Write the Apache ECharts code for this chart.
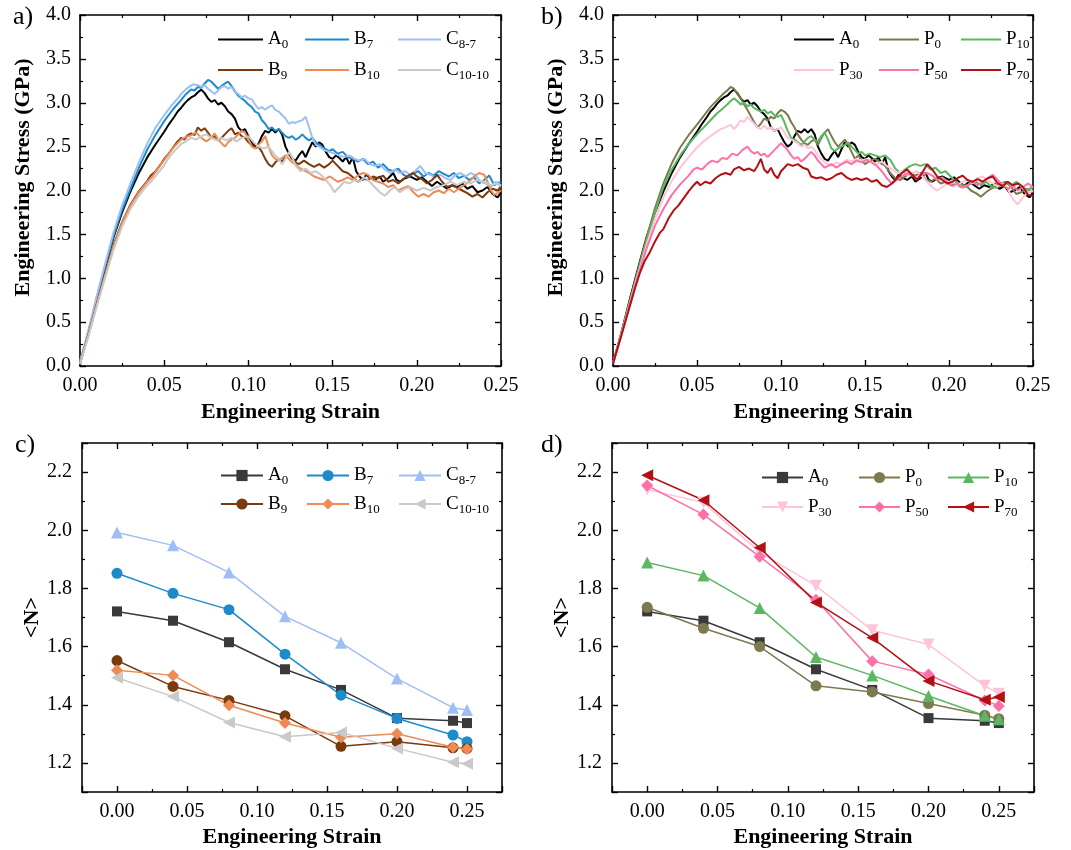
<!DOCTYPE html>
<html>
<head>
<meta charset="utf-8">
<script src="https://cdn.jsdelivr.net/npm/echarts@6/dist/echarts.min.js"></script>
<style>
  html, body { margin: 0; padding: 0; background: #fff; }
  #chart { width: 1071px; height: 850px; }
</style>
</head>
<body>
<div id="chart"></div>
<script>
const FONT = '"Liberation Serif","Times New Roman",serif';

// ---- engineering stress (GPa) vs engineering strain, panel a) and b) ----
const curveA0 = [[0,0.03],[0.005,0.38],[0.01,0.76],[0.015,1.12],[0.02,1.47],[0.025,1.75],[0.03,1.99],[0.035,2.2],[0.04,2.38],[0.045,2.53],[0.05,2.67],[0.053,2.76],[0.056,2.84],[0.058,2.9],[0.06,2.94],[0.062,2.99],[0.064,3.03],[0.066,3.06],[0.068,3.08],[0.07,3.12],[0.072,3.15],[0.074,3.11],[0.076,3.05],[0.078,3.01],[0.08,3.03],[0.082,2.98],[0.084,3.0],[0.086,2.96],[0.088,2.9],[0.09,2.87],[0.092,2.82],[0.094,2.72],[0.096,2.68],[0.098,2.7],[0.1,2.62],[0.102,2.55],[0.104,2.5],[0.106,2.53],[0.108,2.62],[0.11,2.68],[0.112,2.66],[0.114,2.7],[0.116,2.66],[0.118,2.7],[0.12,2.64],[0.122,2.5],[0.124,2.42],[0.126,2.36],[0.128,2.34],[0.13,2.4],[0.132,2.45],[0.134,2.38],[0.136,2.47],[0.138,2.55],[0.14,2.5],[0.142,2.55],[0.144,2.52],[0.146,2.44],[0.148,2.38],[0.15,2.36],[0.152,2.4],[0.154,2.37],[0.156,2.33],[0.158,2.38],[0.16,2.3],[0.162,2.38],[0.164,2.22],[0.166,2.16],[0.168,2.12],[0.17,2.18],[0.172,2.15],[0.175,2.12],[0.178,2.16],[0.18,2.1],[0.183,2.14],[0.186,2.2],[0.188,2.12],[0.19,2.1],[0.193,2.14],[0.196,2.16],[0.2,2.12],[0.203,2.15],[0.206,2.1],[0.209,2.05],[0.212,2.1],[0.215,2.06],[0.218,2.02],[0.221,2.06],[0.224,2.04],[0.227,2.08],[0.23,2.02],[0.233,2.05],[0.236,1.98],[0.239,2.0],[0.242,2.04],[0.245,1.96],[0.248,1.92],[0.25,1.98]];
const curveB7 = [[0,0.04],[0.005,0.39],[0.01,0.78],[0.015,1.14],[0.02,1.49],[0.025,1.78],[0.03,2.02],[0.035,2.26],[0.04,2.47],[0.045,2.64],[0.05,2.79],[0.055,2.92],[0.06,3.03],[0.063,3.1],[0.066,3.15],[0.068,3.14],[0.07,3.18],[0.072,3.17],[0.074,3.22],[0.076,3.26],[0.078,3.24],[0.08,3.2],[0.082,3.16],[0.084,3.19],[0.086,3.22],[0.088,3.24],[0.09,3.19],[0.092,3.13],[0.094,3.08],[0.096,3.05],[0.098,3.02],[0.1,2.98],[0.102,2.95],[0.104,2.9],[0.106,2.88],[0.108,2.8],[0.11,2.76],[0.112,2.7],[0.114,2.72],[0.116,2.68],[0.118,2.7],[0.12,2.66],[0.122,2.62],[0.124,2.6],[0.126,2.62],[0.128,2.58],[0.13,2.6],[0.132,2.64],[0.134,2.6],[0.136,2.57],[0.138,2.6],[0.14,2.55],[0.142,2.52],[0.145,2.48],[0.148,2.45],[0.15,2.47],[0.153,2.42],[0.156,2.44],[0.159,2.38],[0.162,2.36],[0.165,2.33],[0.168,2.36],[0.171,2.3],[0.174,2.33],[0.177,2.26],[0.18,2.3],[0.183,2.24],[0.186,2.22],[0.189,2.25],[0.192,2.18],[0.195,2.15],[0.198,2.2],[0.201,2.22],[0.204,2.16],[0.207,2.2],[0.21,2.17],[0.213,2.22],[0.216,2.19],[0.219,2.16],[0.222,2.2],[0.225,2.14],[0.228,2.17],[0.231,2.12],[0.234,2.15],[0.237,2.08],[0.24,2.12],[0.243,2.17],[0.246,2.06],[0.25,2.1]];
const curveC87 = [[0,0.05],[0.005,0.41],[0.01,0.8],[0.015,1.17],[0.02,1.53],[0.025,1.83],[0.03,2.08],[0.035,2.32],[0.04,2.54],[0.045,2.72],[0.05,2.86],[0.054,2.96],[0.058,3.05],[0.061,3.12],[0.064,3.17],[0.067,3.21],[0.07,3.2],[0.072,3.18],[0.074,3.2],[0.076,3.16],[0.078,3.13],[0.08,3.1],[0.082,3.14],[0.084,3.18],[0.086,3.19],[0.088,3.16],[0.09,3.18],[0.092,3.12],[0.094,3.1],[0.096,3.06],[0.098,3.08],[0.1,3.05],[0.102,3.04],[0.104,2.98],[0.106,2.93],[0.108,2.95],[0.11,2.92],[0.112,2.95],[0.114,2.97],[0.116,2.92],[0.118,2.9],[0.12,2.86],[0.122,2.82],[0.124,2.76],[0.126,2.78],[0.128,2.77],[0.13,2.79],[0.132,2.8],[0.134,2.84],[0.136,2.72],[0.138,2.6],[0.14,2.52],[0.142,2.5],[0.145,2.46],[0.148,2.44],[0.151,2.42],[0.154,2.4],[0.157,2.38],[0.16,2.4],[0.163,2.36],[0.166,2.34],[0.169,2.36],[0.172,2.3],[0.175,2.28],[0.178,2.3],[0.181,2.24],[0.184,2.2],[0.187,2.24],[0.19,2.2],[0.193,2.22],[0.196,2.18],[0.199,2.22],[0.202,2.28],[0.205,2.2],[0.208,2.18],[0.211,2.15],[0.214,2.18],[0.217,2.14],[0.22,2.12],[0.223,2.18],[0.226,2.2],[0.229,2.16],[0.232,2.2],[0.235,2.17],[0.238,2.1],[0.241,2.08],[0.244,2.04],[0.247,2.1],[0.25,2.06]];
const curveB9 = [[0,0.03],[0.005,0.36],[0.01,0.71],[0.015,1.05],[0.02,1.38],[0.025,1.64],[0.03,1.84],[0.035,1.99],[0.04,2.11],[0.042,2.17],[0.045,2.22],[0.048,2.3],[0.05,2.36],[0.053,2.43],[0.056,2.51],[0.058,2.56],[0.06,2.6],[0.062,2.58],[0.064,2.63],[0.066,2.65],[0.068,2.63],[0.07,2.72],[0.072,2.68],[0.074,2.71],[0.076,2.66],[0.078,2.6],[0.08,2.62],[0.082,2.57],[0.084,2.6],[0.086,2.64],[0.088,2.68],[0.09,2.71],[0.092,2.64],[0.094,2.66],[0.096,2.62],[0.098,2.6],[0.1,2.55],[0.102,2.52],[0.104,2.48],[0.106,2.5],[0.108,2.44],[0.11,2.36],[0.112,2.3],[0.114,2.27],[0.116,2.32],[0.118,2.36],[0.12,2.33],[0.122,2.38],[0.124,2.42],[0.126,2.37],[0.128,2.32],[0.13,2.3],[0.133,2.34],[0.136,2.3],[0.139,2.27],[0.142,2.3],[0.145,2.26],[0.148,2.3],[0.15,2.34],[0.153,2.28],[0.156,2.22],[0.159,2.2],[0.162,2.15],[0.165,2.1],[0.168,2.14],[0.171,2.12],[0.174,2.16],[0.177,2.14],[0.18,2.17],[0.183,2.1],[0.186,2.12],[0.189,2.08],[0.192,2.13],[0.195,2.17],[0.198,2.2],[0.2,2.16],[0.203,2.13],[0.206,2.08],[0.209,2.12],[0.212,2.18],[0.215,2.1],[0.218,2.04],[0.221,2.06],[0.224,2.03],[0.227,2.0],[0.23,1.97],[0.233,1.93],[0.236,1.96],[0.239,1.92],[0.242,1.98],[0.245,2.02],[0.248,2.0],[0.25,2.05]];
const curveB10 = [[0,0.03],[0.005,0.35],[0.01,0.7],[0.015,1.04],[0.02,1.37],[0.025,1.63],[0.03,1.83],[0.035,1.98],[0.04,2.1],[0.043,2.16],[0.046,2.24],[0.049,2.32],[0.052,2.4],[0.055,2.48],[0.058,2.54],[0.06,2.58],[0.063,2.61],[0.066,2.63],[0.069,2.66],[0.072,2.6],[0.075,2.56],[0.078,2.6],[0.08,2.65],[0.082,2.58],[0.084,2.54],[0.086,2.5],[0.088,2.55],[0.09,2.58],[0.092,2.6],[0.094,2.64],[0.096,2.68],[0.098,2.66],[0.1,2.58],[0.102,2.5],[0.104,2.48],[0.106,2.52],[0.108,2.56],[0.11,2.62],[0.112,2.5],[0.114,2.4],[0.116,2.36],[0.118,2.34],[0.12,2.37],[0.122,2.4],[0.124,2.36],[0.126,2.32],[0.128,2.3],[0.13,2.26],[0.133,2.23],[0.136,2.2],[0.139,2.16],[0.142,2.14],[0.145,2.12],[0.148,2.16],[0.15,2.14],[0.153,2.1],[0.156,2.12],[0.159,2.15],[0.162,2.12],[0.165,2.17],[0.168,2.2],[0.171,2.18],[0.174,2.12],[0.177,2.1],[0.18,2.08],[0.183,2.04],[0.186,2.06],[0.189,2.0],[0.192,2.03],[0.195,2.05],[0.198,1.98],[0.201,1.93],[0.204,1.96],[0.207,1.93],[0.21,1.98],[0.213,2.0],[0.216,1.97],[0.219,2.02],[0.222,1.98],[0.225,2.02],[0.228,2.06],[0.231,2.1],[0.234,2.16],[0.237,2.2],[0.24,2.18],[0.242,2.1],[0.244,2.0],[0.246,1.95],[0.248,1.97],[0.25,2.0]];
const curveC1010 = [[0,0.02],[0.005,0.34],[0.01,0.68],[0.015,1.01],[0.02,1.33],[0.025,1.59],[0.03,1.79],[0.035,1.94],[0.04,2.06],[0.043,2.12],[0.046,2.19],[0.05,2.29],[0.053,2.38],[0.056,2.45],[0.06,2.53],[0.063,2.56],[0.066,2.6],[0.069,2.58],[0.072,2.62],[0.075,2.64],[0.078,2.6],[0.081,2.57],[0.084,2.6],[0.087,2.57],[0.09,2.6],[0.093,2.56],[0.096,2.6],[0.1,2.62],[0.103,2.55],[0.106,2.5],[0.109,2.48],[0.112,2.5],[0.115,2.42],[0.118,2.36],[0.12,2.3],[0.122,2.36],[0.124,2.44],[0.126,2.38],[0.128,2.28],[0.131,2.22],[0.134,2.25],[0.137,2.2],[0.14,2.22],[0.143,2.18],[0.146,2.12],[0.149,2.05],[0.151,1.98],[0.154,2.04],[0.157,2.1],[0.16,2.08],[0.163,2.12],[0.166,2.1],[0.169,2.15],[0.172,2.1],[0.175,2.04],[0.178,1.98],[0.181,1.94],[0.184,2.0],[0.187,2.04],[0.19,1.98],[0.193,2.02],[0.196,2.04],[0.2,2.0],[0.204,2.03],[0.208,2.0],[0.212,2.04],[0.216,2.06],[0.22,2.1],[0.224,2.06],[0.228,2.1],[0.232,2.08],[0.236,2.12],[0.24,2.1],[0.244,2.06],[0.247,2.08],[0.25,2.05]];
const curveP0 = [[0,0.03],[0.005,0.37],[0.01,0.74],[0.015,1.1],[0.02,1.46],[0.025,1.8],[0.03,2.08],[0.035,2.31],[0.04,2.49],[0.045,2.63],[0.05,2.75],[0.054,2.85],[0.058,2.95],[0.062,3.03],[0.065,3.09],[0.068,3.14],[0.07,3.18],[0.072,3.16],[0.074,3.1],[0.076,3.05],[0.078,2.98],[0.08,2.92],[0.082,2.85],[0.084,2.78],[0.086,2.72],[0.088,2.76],[0.09,2.82],[0.092,2.8],[0.094,2.84],[0.096,2.82],[0.098,2.88],[0.1,2.92],[0.102,2.9],[0.104,2.86],[0.106,2.78],[0.108,2.72],[0.11,2.64],[0.112,2.58],[0.114,2.54],[0.116,2.52],[0.118,2.56],[0.12,2.58],[0.122,2.52],[0.124,2.6],[0.126,2.66],[0.128,2.7],[0.13,2.62],[0.132,2.55],[0.134,2.5],[0.136,2.54],[0.138,2.58],[0.14,2.52],[0.142,2.44],[0.144,2.36],[0.146,2.4],[0.148,2.34],[0.15,2.3],[0.153,2.34],[0.156,2.36],[0.159,2.32],[0.162,2.28],[0.165,2.2],[0.168,2.14],[0.171,2.12],[0.174,2.16],[0.177,2.2],[0.18,2.17],[0.183,2.2],[0.186,2.13],[0.189,2.1],[0.192,2.14],[0.195,2.08],[0.198,2.1],[0.201,2.06],[0.204,2.08],[0.207,2.04],[0.21,2.06],[0.213,2.0],[0.216,1.97],[0.219,1.93],[0.222,1.98],[0.225,2.02],[0.228,2.05],[0.231,2.08],[0.234,2.1],[0.237,2.04],[0.24,1.96],[0.243,1.98],[0.246,2.02],[0.25,1.98]];
const curveP10 = [[0,0.03],[0.005,0.37],[0.01,0.73],[0.015,1.08],[0.02,1.43],[0.025,1.75],[0.03,2.04],[0.035,2.24],[0.04,2.4],[0.045,2.53],[0.05,2.64],[0.054,2.72],[0.058,2.8],[0.062,2.88],[0.065,2.93],[0.068,2.98],[0.07,3.02],[0.072,3.05],[0.074,3.02],[0.076,2.98],[0.078,3.0],[0.08,2.96],[0.082,2.98],[0.084,2.94],[0.086,2.92],[0.088,2.9],[0.09,2.92],[0.092,2.88],[0.094,2.9],[0.096,2.86],[0.098,2.84],[0.1,2.86],[0.102,2.78],[0.104,2.68],[0.106,2.6],[0.108,2.58],[0.11,2.55],[0.112,2.52],[0.114,2.56],[0.116,2.6],[0.118,2.62],[0.12,2.58],[0.122,2.56],[0.124,2.62],[0.126,2.66],[0.128,2.58],[0.13,2.48],[0.132,2.45],[0.134,2.48],[0.136,2.5],[0.138,2.52],[0.14,2.55],[0.142,2.5],[0.144,2.46],[0.146,2.42],[0.148,2.44],[0.15,2.4],[0.153,2.42],[0.156,2.4],[0.159,2.38],[0.162,2.4],[0.165,2.35],[0.168,2.25],[0.171,2.2],[0.174,2.24],[0.177,2.28],[0.18,2.3],[0.183,2.28],[0.186,2.3],[0.189,2.24],[0.192,2.26],[0.195,2.2],[0.198,2.22],[0.201,2.16],[0.204,2.1],[0.207,2.07],[0.21,2.04],[0.213,2.08],[0.216,2.1],[0.219,2.06],[0.222,2.1],[0.225,2.05],[0.228,2.03],[0.231,2.06],[0.234,2.08],[0.237,2.05],[0.24,2.1],[0.243,2.06],[0.246,2.0],[0.25,2.04]];
const curveP30 = [[0,0.03],[0.005,0.36],[0.01,0.71],[0.015,1.05],[0.02,1.38],[0.025,1.67],[0.03,1.92],[0.035,2.11],[0.04,2.26],[0.045,2.38],[0.05,2.49],[0.054,2.56],[0.058,2.62],[0.061,2.66],[0.064,2.7],[0.067,2.72],[0.07,2.75],[0.072,2.7],[0.074,2.74],[0.076,2.8],[0.078,2.78],[0.08,2.84],[0.082,2.8],[0.084,2.76],[0.086,2.72],[0.088,2.7],[0.09,2.74],[0.092,2.7],[0.094,2.72],[0.096,2.68],[0.098,2.7],[0.1,2.72],[0.102,2.66],[0.104,2.6],[0.106,2.58],[0.108,2.56],[0.11,2.54],[0.112,2.5],[0.114,2.52],[0.116,2.48],[0.118,2.5],[0.12,2.46],[0.122,2.4],[0.124,2.36],[0.126,2.32],[0.128,2.3],[0.13,2.28],[0.133,2.32],[0.136,2.3],[0.139,2.35],[0.142,2.33],[0.145,2.36],[0.148,2.34],[0.151,2.36],[0.154,2.32],[0.157,2.3],[0.16,2.33],[0.163,2.28],[0.166,2.24],[0.169,2.2],[0.172,2.22],[0.175,2.18],[0.178,2.2],[0.181,2.22],[0.184,2.16],[0.187,2.1],[0.19,2.04],[0.193,2.0],[0.196,2.04],[0.199,2.08],[0.202,2.1],[0.205,2.06],[0.208,2.1],[0.211,2.12],[0.214,2.08],[0.217,2.14],[0.22,2.16],[0.223,2.12],[0.226,2.08],[0.229,2.05],[0.232,2.08],[0.235,2.02],[0.238,1.9],[0.241,1.84],[0.244,1.92],[0.247,1.98],[0.25,2.0]];
const curveP50 = [[0,0.03],[0.005,0.35],[0.01,0.7],[0.015,1.03],[0.02,1.34],[0.025,1.6],[0.03,1.79],[0.035,1.95],[0.04,2.07],[0.045,2.17],[0.048,2.24],[0.05,2.26],[0.053,2.24],[0.056,2.3],[0.059,2.34],[0.062,2.32],[0.065,2.37],[0.068,2.36],[0.071,2.42],[0.074,2.4],[0.077,2.46],[0.08,2.5],[0.082,2.45],[0.084,2.42],[0.086,2.44],[0.088,2.4],[0.09,2.42],[0.092,2.38],[0.094,2.42],[0.096,2.46],[0.098,2.5],[0.1,2.54],[0.102,2.5],[0.104,2.46],[0.106,2.4],[0.108,2.36],[0.11,2.38],[0.112,2.33],[0.114,2.36],[0.116,2.4],[0.118,2.44],[0.12,2.4],[0.122,2.34],[0.124,2.3],[0.126,2.26],[0.128,2.28],[0.13,2.3],[0.133,2.26],[0.136,2.3],[0.139,2.33],[0.142,2.3],[0.145,2.34],[0.148,2.32],[0.151,2.35],[0.154,2.32],[0.157,2.28],[0.16,2.22],[0.163,2.14],[0.166,2.08],[0.169,2.12],[0.172,2.16],[0.175,2.2],[0.178,2.17],[0.181,2.14],[0.184,2.18],[0.187,2.2],[0.19,2.17],[0.193,2.12],[0.196,2.15],[0.199,2.1],[0.202,2.05],[0.205,2.08],[0.208,2.03],[0.211,2.06],[0.214,2.1],[0.217,2.06],[0.22,2.1],[0.223,2.14],[0.226,2.18],[0.229,2.12],[0.232,2.06],[0.235,2.02],[0.238,2.05],[0.241,2.0],[0.244,2.04],[0.247,2.08],[0.25,2.04]];
const curveP70 = [[0,0.03],[0.005,0.35],[0.01,0.68],[0.013,0.88],[0.016,1.06],[0.019,1.2],[0.022,1.3],[0.025,1.42],[0.028,1.52],[0.03,1.56],[0.033,1.68],[0.036,1.77],[0.039,1.83],[0.042,1.91],[0.045,1.99],[0.048,2.06],[0.05,2.1],[0.052,2.06],[0.055,2.1],[0.058,2.08],[0.061,2.14],[0.064,2.18],[0.067,2.2],[0.07,2.18],[0.072,2.24],[0.075,2.27],[0.078,2.23],[0.081,2.25],[0.084,2.22],[0.086,2.28],[0.088,2.36],[0.09,2.24],[0.092,2.2],[0.094,2.26],[0.096,2.18],[0.098,2.14],[0.1,2.22],[0.102,2.26],[0.104,2.3],[0.107,2.28],[0.11,2.3],[0.113,2.26],[0.116,2.24],[0.118,2.16],[0.121,2.14],[0.124,2.15],[0.127,2.12],[0.13,2.14],[0.133,2.18],[0.136,2.2],[0.139,2.15],[0.142,2.12],[0.145,2.14],[0.148,2.12],[0.151,2.14],[0.154,2.1],[0.157,2.12],[0.16,2.06],[0.163,2.04],[0.166,2.08],[0.169,2.14],[0.172,2.2],[0.175,2.24],[0.178,2.18],[0.181,2.12],[0.184,2.2],[0.187,2.3],[0.19,2.24],[0.193,2.16],[0.196,2.12],[0.199,2.08],[0.202,2.1],[0.205,2.14],[0.208,2.17],[0.211,2.12],[0.214,2.1],[0.217,2.13],[0.22,2.1],[0.223,2.14],[0.226,2.16],[0.229,2.08],[0.232,2.05],[0.235,2.1],[0.238,2.06],[0.241,2.08],[0.244,2.04],[0.247,1.95],[0.25,1.94]];

// ---- average coordination <N> at sampled strains, panel c) and d) ----
const sampledStrain = [0, 0.04, 0.08, 0.12, 0.16, 0.20, 0.24, 0.25];
const nA0    = [1.721, 1.689, 1.615, 1.522, 1.451, 1.354, 1.345, 1.337];
const nB7    = [1.852, 1.783, 1.727, 1.574, 1.433, 1.353, 1.296, 1.273];
const nC87   = [1.992, 1.948, 1.855, 1.704, 1.613, 1.490, 1.390, 1.382];
const nB9    = [1.552, 1.463, 1.415, 1.362, 1.257, 1.273, 1.252, 1.250];
const nB10   = [1.519, 1.501, 1.398, 1.337, 1.288, 1.300, 1.254, 1.248];
const nC1010 = [1.493, 1.428, 1.339, 1.290, 1.305, 1.250, 1.202, 1.197];
const nP0    = [1.735, 1.663, 1.600, 1.465, 1.444, 1.404, 1.364, 1.352];
const nP10   = [1.889, 1.844, 1.733, 1.564, 1.501, 1.430, 1.362, 1.350];
const nP30   = [2.140, 2.095, 1.925, 1.809, 1.656, 1.607, 1.465, 1.438];
const nP50   = [2.154, 2.054, 1.909, 1.761, 1.550, 1.504, 1.415, 1.396];
const nP70   = [2.189, 2.103, 1.940, 1.752, 1.630, 1.482, 1.417, 1.427];

// legend label pieces: main letter + subscript
const legendParts = {
  A0: ['A', '0'], B7: ['B', '7'], C87: ['C', '8-7'],
  B9: ['B', '9'], B10: ['B', '10'], C1010: ['C', '10-10'],
  P0: ['P', '0'], P10: ['P', '10'], P30: ['P', '30'],
  P50: ['P', '50'], P70: ['P', '70']
};

const colors = {
  A0: '#000000', A0m: '#3a3a3a', B7: '#1b8bcb', C87: '#9fbff4', B9: '#7a3a0d',
  B10: '#ee8a56', C1010: '#c9c9c9', P0: '#7d7a50', P10: '#5cb763',
  P30: '#ffc4d8', P50: '#ff70a8', P70: '#b30f14'
};

const zip = ys => sampledStrain.map((x, i) => [x, ys[i]]);

const grids = [
  { left: 80,  top: 15,  width: 421, height: 351 },
  { left: 613, top: 15,  width: 420, height: 351 },
  { left: 82,  top: 443, width: 420, height: 349 },
  { left: 612, top: 443, width: 422, height: 349 }
];

const lineCol = { color: '#000', width: 1.6 };
const tickCfg = { show: true, inside: true, length: 6, lineStyle: { color: '#000', width: 1.4 } };
const minorCfg = { show: true, splitNumber: 2, length: 3, lineStyle: { color: '#000', width: 1.2 } };
const labelFont = { fontFamily: FONT, fontSize: 20, color: '#000' };
const nameFont = { fontFamily: FONT, fontSize: 22, fontWeight: 'bold', color: '#000' };

const isMultiple = (v, step) => Math.abs(v / step - Math.round(v / step)) < 1e-6;

function axisPair(kind, grid, range, showName) {
  const main = Object.assign({
    type: 'value', gridIndex: grid, min: range.min, max: range.max,
    axisLine: { show: true, onZero: false, lineStyle: lineCol },
    axisTick: tickCfg, minorTick: minorCfg,
    splitLine: { show: false }, minorSplitLine: { show: false },
    axisLabel: {
      show: true, margin: range.margin || 9, ...labelFont,
      formatter: v => (isMultiple(v, range.major) && v >= range.lo - 1e-9 && v <= range.hi + 1e-9) ? v.toFixed(range.digits) : ''
    }
  }, range.scale);
  const mirror = Object.assign({}, main, {
    axisLabel: { show: false }, name: ''
  });
  if (kind === 'x') {
    main.position = 'bottom';
    mirror.position = 'top';
    if (showName) {
      main.name = 'Engineering Strain';
      main.nameLocation = 'middle';
      main.nameGap = range.nameGap;
      main.nameTextStyle = nameFont;
    }
  } else {
    main.position = 'left';
    mirror.position = 'right';
    main.name = range.name;
    main.nameLocation = 'middle';
    main.nameGap = range.nameGap;
    main.nameRotate = 90;
    main.nameTextStyle = Object.assign({}, nameFont, range.namePad ? { padding: range.namePad } : {});
  }
  return [main, mirror];
}

const strainRangeTop = { min: 0, max: 0.25, major: 0.05, lo: 0, hi: 0.25, digits: 2, nameGap: 35, margin: 10, scale: { interval: 0.05 } };
const stressRange = { min: 0, max: 4, major: 0.5, lo: 0, hi: 4, digits: 1, nameGap: 46, name: 'Engineering Stress (GPa)', namePad: [0, 0, 0, 26], scale: { interval: 0.5 } };
const strainRangeBottom = { min: -0.025, max: 0.275, major: 0.05, lo: 0, hi: 0.25, digits: 2, nameGap: 34, margin: 10, scale: { splitNumber: 6, minInterval: 0.05, maxInterval: 0.05 } };
const coordRange = { min: 1.1, max: 2.3, major: 0.2, lo: 1.2, hi: 2.2, digits: 1, nameGap: 38, margin: 10, name: '<N>', scale: { splitNumber: 6, minInterval: 0.2, maxInterval: 0.2 } };

const xAxis = [
  ...axisPair('x', 0, strainRangeTop, true),
  ...axisPair('x', 1, strainRangeTop, true),
  ...axisPair('x', 2, strainRangeBottom, true),
  ...axisPair('x', 3, strainRangeBottom, true)
];
const yAxis = [
  ...axisPair('y', 0, stressRange),
  ...axisPair('y', 1, stressRange),
  ...axisPair('y', 2, coordRange),
  ...axisPair('y', 3, coordRange)
];

function curve(key, panel, data, axisIdx) {
  return {
    name: key + '@' + panel, type: 'line', data: data,
    xAxisIndex: axisIdx, yAxisIndex: axisIdx,
    symbol: 'none', smooth: false,
    lineStyle: { color: colors[key], width: 2 },
    itemStyle: { color: colors[key] },
    z: 3
  };
}

function markers(key, panel, ys, axisIdx, symbol, size, rotate, colorKey) {
  const c = colors[colorKey || key];
  return {
    name: key + '@' + panel, type: 'line', data: zip(ys),
    xAxisIndex: axisIdx, yAxisIndex: axisIdx,
    symbol: symbol, symbolSize: size, symbolRotate: rotate || 0, showSymbol: true,
    lineStyle: { color: c, width: 1.5 },
    itemStyle: { color: c, borderWidth: 0 },
    z: 3
  };
}

const series = [
  curve('A0', 'a', curveA0, 0),
  curve('B7', 'a', curveB7, 0),
  curve('C87', 'a', curveC87, 0),
  curve('B9', 'a', curveB9, 0),
  curve('B10', 'a', curveB10, 0),
  curve('C1010', 'a', curveC1010, 0),

  curve('A0', 'b', curveA0, 2),
  curve('P0', 'b', curveP0, 2),
  curve('P10', 'b', curveP10, 2),
  curve('P30', 'b', curveP30, 2),
  curve('P50', 'b', curveP50, 2),
  curve('P70', 'b', curveP70, 2),

  markers('A0', 'c', nA0, 4, 'rect', 10, 0, 'A0m'),
  markers('B7', 'c', nB7, 4, 'circle', 11),
  markers('C87', 'c', nC87, 4, 'triangle', 12),
  markers('B9', 'c', nB9, 4, 'circle', 11),
  markers('B10', 'c', nB10, 4, 'diamond', 12),
  markers('C1010', 'c', nC1010, 4, 'triangle', 12, 90),

  markers('A0', 'd', nA0, 6, 'rect', 10, 0, 'A0m'),
  markers('P0', 'd', nP0, 6, 'circle', 11),
  markers('P10', 'd', nP10, 6, 'triangle', 12),
  markers('P30', 'd', nP30, 6, 'triangle', 12, 180),
  markers('P50', 'd', nP50, 6, 'diamond', 12),
  markers('P70', 'd', nP70, 6, 'triangle', 12, 90)
];

const legendText = {
  fontFamily: FONT, fontSize: 19, color: '#000',
  rich: {
    m: { fontFamily: FONT, fontSize: 19, color: '#000', lineHeight: 24 },
    s: { fontFamily: FONT, fontSize: 13, color: '#000', lineHeight: 12, verticalAlign: 'bottom' }
  }
};

function legendColumn(panel, keys, left, top, itemWidth, itemHeight, gap, lineOnly) {
  const lg = {
    data: keys.map(k => k + '@' + panel),
    orient: 'vertical', left: left, top: top,
    itemWidth: itemWidth, itemHeight: itemHeight, itemGap: gap,
    selectedMode: false, padding: 0,
    textStyle: legendText,
    formatter: name => {
      const p = legendParts[name.split('@')[0]];
      return '{m|' + p[0] + '}{s|' + p[1] + '}';
    }
  };
  if (lineOnly) lg.itemStyle = { opacity: 0 };
  return lg;
}

const legend = [
  legendColumn('a', ['A0', 'B9'], 217, 30, 45, 3, 9, true),
  legendColumn('a', ['B7', 'B10'], 304, 30, 44, 3, 9, true),
  legendColumn('a', ['C87', 'C1010'], 397, 30, 43, 3, 9, true),

  legendColumn('b', ['A0', 'P30'], 793, 30, 40, 3, 9, true),
  legendColumn('b', ['P0', 'P50'], 878, 30, 40, 3, 9, true),
  legendColumn('b', ['P10', 'P70'], 960, 30, 40, 3, 9, true),

  legendColumn('c', ['A0', 'B9'], 220, 466, 42, 14, 7),
  legendColumn('c', ['B7', 'B10'], 306, 466, 42, 14, 7),
  legendColumn('c', ['C87', 'C1010'], 398, 466, 42, 14, 7),

  legendColumn('d', ['A0', 'P30'], 761, 468, 41, 14, 8),
  legendColumn('d', ['P0', 'P50'], 858, 468, 41, 14, 8),
  legendColumn('d', ['P10', 'P70'], 947, 468, 41, 14, 8)
];

const panelTag = (text, x, y) => ({
  type: 'text', left: x, top: y,
  style: { text: text, fontFamily: FONT, fontSize: 26, fill: '#000' }
});

const option = {
  animation: false,
  backgroundColor: '#fff',
  grid: grids,
  xAxis: xAxis,
  yAxis: yAxis,
  legend: legend,
  series: series,
  graphic: [
    panelTag('a)', 13, 4),
    panelTag('b)', 541, 4),
    panelTag('c)', 15, 432),
    panelTag('d)', 541, 432)
  ]
};

const chart = echarts.init(document.getElementById('chart'), null, { renderer: 'canvas' });
chart.setOption(option);
</script>
</body>
</html>
